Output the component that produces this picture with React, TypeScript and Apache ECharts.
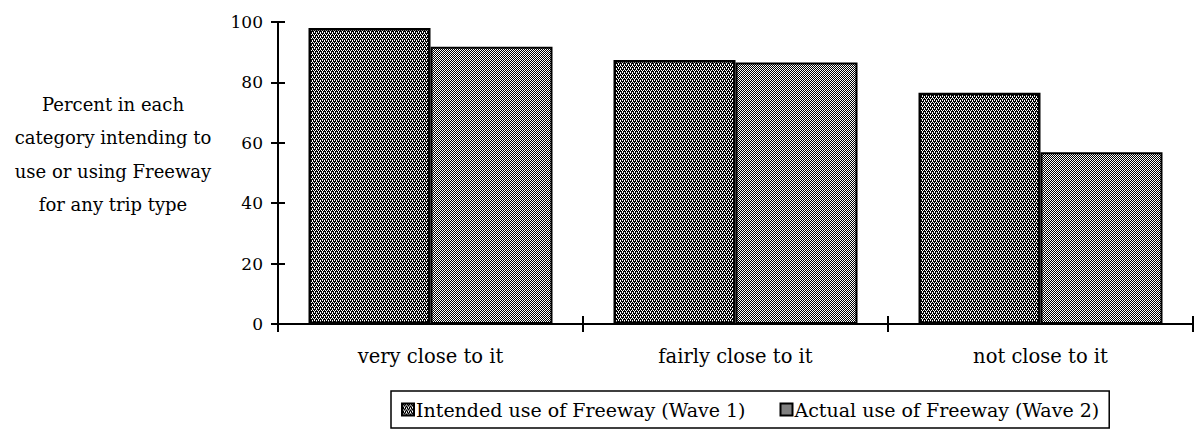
import React, { useEffect, useRef } from "react";
import * as echarts from "echarts";

const categories = ["very close to it", "fairly close to it", "not close to it"];
const seriesNames = ["Intended use of Freeway (Wave 1)", "Actual use of Freeway (Wave 2)"];
const wave1 = [98, 87.4, 76.6];
const wave2 = [91.8, 86.6, 56.9];
const yTicks = [0, 20, 40, 60, 80, 100];
const yTitleLines = ["Percent in each", "category intending to", "use or using Freeway", "for any trip type"];

function makePattern(kind: number): HTMLCanvasElement {
  const c = document.createElement("canvas");
  c.width = 4;
  c.height = 4;
  const ctx = c.getContext("2d")!;
  ctx.fillStyle = "#000";
  ctx.fillRect(0, 0, 4, 4);
  ctx.fillStyle = "#fff";
  const whites =
    kind === 0
      ? [[0, 0], [2, 0], [1, 2], [3, 2], [2, 3], [0, 1]]
      : [[0, 0], [2, 0], [1, 1], [3, 1], [0, 2], [2, 2], [1, 3], [3, 3]];
  whites.forEach(([x, y]) => ctx.fillRect(x, y, 1, 1));
  return c;
}

export default function App() {
  const ref = useRef<HTMLDivElement>(null);
  useEffect(() => {
    if (!ref.current) return;
    const chart = echarts.init(ref.current, undefined, { renderer: "svg" });
    const p1 = makePattern(0);
    const p2 = makePattern(1);
    const font = "DejaVu Serif";
    chart.setOption({
      animation: false,
      textStyle: { fontFamily: font, color: "#000" },
      grid: { left: 278, right: 4, top: 22, bottom: 118, containLabel: false },
      legend: {
        left: 391,
        top: 391,
        data: seriesNames,
        orient: "horizontal",
        icon: "rect",
        itemWidth: 12,
        itemHeight: 12,
        itemGap: 34,
        borderColor: "#000",
        borderWidth: 1.5,
        padding: [9, 10, 9, 10],
        textStyle: { fontFamily: font, fontSize: 19, color: "#000", padding: [0, 0, 0, -3] },
      },
      xAxis: [
        {
          type: "category",
          data: categories,
          axisLine: { lineStyle: { color: "#000", width: 2 } },
          axisTick: { show: true, length: 8, lineStyle: { color: "#000", width: 2 } },
          axisLabel: { fontFamily: font, fontSize: 19.5, color: "#000", margin: 22 },
        },
        {
          type: "category",
          data: categories,
          position: "bottom",
          axisLine: { show: false },
          axisTick: { show: true, inside: true, length: 8, lineStyle: { color: "#000", width: 2 } },
          axisLabel: { show: false },
        },
      ],
      yAxis: [
        {
          type: "value",
          min: 0,
          max: 100,
          interval: 20,
          splitLine: { show: false },
          axisLine: { show: true, lineStyle: { color: "#000", width: 2 } },
          axisTick: { show: true, length: 7, lineStyle: { color: "#000", width: 2 } },
          axisLabel: {
            fontFamily: font,
            fontSize: 17,
            color: "#000",
            margin: 15,
            formatter: (v: number) => (yTicks.includes(v) ? String(v) : ""),
          },
        },
        {
          type: "value",
          min: 0,
          max: 100,
          interval: 20,
          position: "left",
          splitLine: { show: false },
          axisLine: { show: false },
          axisTick: { show: true, inside: true, length: 7, lineStyle: { color: "#000", width: 2 } },
          axisLabel: { show: false },
        },
      ],
      graphic: yTitleLines.map((t, i) => ({
        type: "text",
        x: 113,
        y: 104 + i * 33.6,
        style: {
          text: t,
          fontFamily: font,
          fontSize: 18,
          fill: "#000",
          textAlign: "center",
          textVerticalAlign: "middle",
        },
      })),
      series: [
        {
          name: seriesNames[0],
          type: "bar",
          data: wave1,
          barGap: "0%",
          barCategoryGap: "20%",
          itemStyle: { color: { image: p1, repeat: "repeat" }, borderColor: "#000", borderWidth: 2.5 },
        },
        {
          name: seriesNames[1],
          type: "bar",
          data: wave2,
          barGap: "0%",
          barCategoryGap: "20%",
          itemStyle: { color: { image: p2, repeat: "repeat" }, borderColor: "#000", borderWidth: 2 },
        },
      ],
    });
    return () => chart.dispose();
  }, []);
  return (
    <div
      ref={ref}
      style={{ position: "absolute", left: 0, top: 0, width: 1197, height: 442, background: "#fff" }}
    />
  );
}
